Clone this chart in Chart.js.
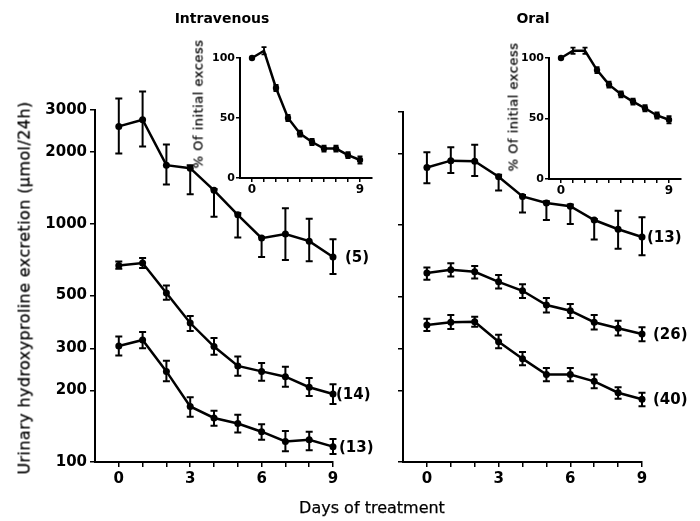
<!DOCTYPE html>
<html>
<head>
<meta charset="utf-8">
<script src="https://cdn.jsdelivr.net/npm/chart.js@4.4.0/dist/chart.umd.min.js"></script>
<style>
  body { margin: 0; background: #fff; }
  #wrap { position: relative; width: 700px; height: 521px; overflow: hidden; font-family: "DejaVu Sans", sans-serif; color: #000; }
  canvas { position: absolute; }
  .txt { position: absolute; white-space: nowrap; transform: translate(-50%, -50%); -webkit-text-stroke: 0.25px #000; }
  .rot { transform: translate(-50%, -50%) rotate(-90deg); }
  .bold { font-weight: bold; -webkit-text-stroke: 0; }
</style>
</head>
<body>
<div id="wrap">
  <canvas id="ivMain" width="380" height="521" style="left:0;top:0"></canvas>
  <canvas id="oralMain" width="320" height="521" style="left:380px;top:0"></canvas>
  <canvas id="ivInset" width="190" height="180" style="left:190px;top:20px"></canvas>
  <canvas id="oralInset" width="200" height="182" style="left:500px;top:20px"></canvas>

  <div class="txt bold" style="left:222px;top:18px;font-size:14px">Intravenous</div>
  <div class="txt bold" style="left:533px;top:18px;font-size:14px">Oral</div>
  <div class="txt rot" style="left:24px;top:288px;font-size:16px;letter-spacing:0.4px">Urinary hydroxyproline excretion (μmol/24h)</div>
  <div class="txt" style="left:372px;top:507px;font-size:16px">Days of treatment</div>
  <div class="txt rot" style="left:198px;top:104px;font-size:13px;letter-spacing:0.5px">% Of initial excess</div>
  <div class="txt rot" style="left:513px;top:107px;font-size:13px;letter-spacing:0.5px">% Of initial excess</div>
</div>

<script>
const days = [0, 1, 2, 3, 4, 5, 6, 7, 8, 9];
const mainTicks = [100, 200, 300, 500, 1000, 2000, 3000];
const insetTicks = [0, 50, 100];

// intravenous, µmol/24h (mean, upper and lower end of the error bar)
const ivHigh   = [2560, 2730, 1760, 1710, 1380, 1090, 870, 905, 845, 725];
const ivHighUp = [3350, 3590, 2150, 1760, 1400, 1110, 880, 1160, 1050, 860];
const ivHighLo = [1970, 2110, 1460, 1330, 1070, 875, 725, 705, 695, 615];

const ivMid   = [668, 684, 512, 383, 305, 253, 240, 228, 206, 193];
const ivMidUp = [694, 718, 551, 410, 331, 277, 260, 251, 225, 212];
const ivMidLo = [647, 651, 480, 355, 282, 230, 219, 207, 189, 175];

const ivLow   = [307, 325, 240, 171, 153, 145, 134, 122, 124, 116];
const ivLowUp = [336, 351, 266, 187, 164, 158, 144, 135, 134, 125];
const ivLowLo = [280, 300, 218, 155, 142, 133, 124, 111, 112, 108];

// oral
const oralHigh   = [1750, 1870, 1860, 1600, 1320, 1240, 1200, 1050, 960, 890];
const oralHighUp = [2030, 2130, 2180, 1630, 1340, 1260, 1220, 1060, 1150, 1080];
const oralHighLo = [1500, 1660, 1610, 1400, 1130, 1050, 1010, 870, 795, 745];

const oralMid   = [627, 647, 635, 576, 528, 460, 435, 389, 367, 347];
const oralMidUp = [662, 690, 672, 615, 563, 492, 464, 417, 395, 370];
const oralMidLo = [587, 606, 595, 540, 492, 428, 405, 362, 342, 323];

const oralLow   = [379, 389, 391, 322, 273, 234, 234, 219, 196, 184];
const oralLowUp = [402, 417, 410, 344, 291, 249, 249, 234, 207, 196];
const oralLowLo = [357, 364, 372, 302, 256, 219, 219, 205, 185, 172];

// insets, % of initial excess
const ivPct      = [100, 106, 75, 50, 37, 30, 24.5, 24.5, 19, 15];
const ivPctErr   = [0, 3, 2.5, 2.5, 2.5, 2.5, 2.5, 2.5, 2.5, 3];
const oralPct    = [100, 106, 106, 90, 78, 70, 64, 58.5, 52.5, 49];
const oralPctErr = [0, 2.5, 2.5, 2.5, 2.5, 2.5, 2.5, 2.5, 2.5, 3];

const FONT = "'DejaVu Sans', sans-serif";

const errorBars = {
  id: 'errorBars',
  afterDatasetsDraw(chart) {
    const ctx = chart.ctx, xs = chart.scales.x, ys = chart.scales.y;
    ctx.save();
    ctx.strokeStyle = '#000';
    ctx.fillStyle = '#000';
    chart.data.datasets.forEach(ds => {
      ctx.lineWidth = ds.errWidth || 2;
      ds.data.forEach((p, i) => {
        if (!ds.errUp) return;
        const x = xs.getPixelForValue(p.x);
        const yT = ys.getPixelForValue(ds.errUp[i]);
        const yB = ys.getPixelForValue(ds.errLo[i]);
        if (Math.abs(yB - yT) < 1) return;
        const c = ds.cap;
        ctx.beginPath();
        ctx.moveTo(x, yT); ctx.lineTo(x, yB);
        ctx.moveTo(x - c, yT); ctx.lineTo(x + c, yT);
        ctx.moveTo(x - c, yB); ctx.lineTo(x + c, yB);
        ctx.stroke();
      });
      if (ds.tag) {
        const last = ds.data[ds.data.length - 1];
        ctx.font = 'bold 15px ' + FONT;
        ctx.textAlign = 'left';
        ctx.textBaseline = 'middle';
        ctx.fillText(ds.tag, xs.getPixelForValue(last.x) + ds.tagDx, ys.getPixelForValue(last.y) + 1);
      }
    });
    ctx.restore();
  }
};

function series(vals, up, lo, tag, tagDx) {
  return {
    data: days.map((d, i) => ({ x: d, y: vals[i] })),
    errUp: up, errLo: lo, cap: 3.5, errWidth: 2,
    tag: tag, tagDx: tagDx,
    borderColor: '#000', borderWidth: 2.5,
    pointRadius: 3.5, pointBackgroundColor: '#000', pointBorderWidth: 0,
    clip: false
  };
}

function pctSeries(vals, err) {
  return {
    data: days.map((d, i) => ({ x: d, y: vals[i] })),
    errUp: vals.map((v, i) => v + err[i]),
    errLo: vals.map((v, i) => v - err[i]),
    cap: 2.5, errWidth: 1.8,
    borderColor: '#000', borderWidth: 2.5,
    pointRadius: 3.2, pointBackgroundColor: '#000', pointBorderWidth: 0,
    clip: false
  };
}

function axisCommon(fontSize, tickLen, pad) {
  return {
    grid: { drawOnChartArea: false, color: '#000', lineWidth: 1.5, tickLength: tickLen },
    border: { color: '#000', width: 2 },
    ticks: { color: '#000', font: { family: FONT, size: fontSize, weight: 'bold' }, padding: pad, autoSkip: false, maxRotation: 0 }
  };
}

function mainChart(id, datasets, yWidth, padTop, padRight, showY) {
  const xAx = axisCommon(15, 5, 3);
  const yAx = axisCommon(15, 5, 3);
  return new Chart(document.getElementById(id), {
    type: 'line',
    data: { datasets },
    options: {
      responsive: false, animation: false,
      layout: { padding: { top: padTop, right: padRight, left: 0, bottom: 0 } },
      plugins: { legend: { display: false }, tooltip: { enabled: false } },
      scales: {
        x: {
          ...xAx, type: 'linear', min: -1, max: 9,
          afterBuildTicks: s => { s.ticks = days.map(v => ({ value: v })); },
          afterFit: s => { s.height = 59; },
          ticks: { ...xAx.ticks, callback: v => (v % 3 === 0 ? String(v) : '') }
        },
        y: {
          ...yAx, type: 'logarithmic', min: 100, max: 3000,
          afterBuildTicks: s => { s.ticks = mainTicks.map(v => ({ value: v })); },
          afterFit: s => { s.width = yWidth; },
          ticks: { ...yAx.ticks, callback: v => (showY ? String(v) : '') }
        }
      }
    },
    plugins: [errorBars]
  });
}

function insetChart(id, datasets, yWidth, padRight, xHeight) {
  const xAx = axisCommon(12, 4, 1);
  const yAx = axisCommon(11, 4, 1);
  return new Chart(document.getElementById(id), {
    type: 'line',
    data: { datasets },
    options: {
      responsive: false, animation: false,
      layout: { padding: { top: 38, right: padRight, left: 0, bottom: 0 } },
      plugins: { legend: { display: false }, tooltip: { enabled: false } },
      scales: {
        x: {
          ...xAx, type: 'linear', min: -1, max: 10,
          afterBuildTicks: s => { s.ticks = days.map(v => ({ value: v })); },
          afterFit: s => { s.height = xHeight; },
          ticks: { ...xAx.ticks, callback: v => (v === 0 || v === 9 ? String(v) : '') }
        },
        y: {
          ...yAx, type: 'linear', min: 0, max: 100,
          afterBuildTicks: s => { s.ticks = insetTicks.map(v => ({ value: v })); },
          afterFit: s => { s.width = yWidth; },
          ticks: { ...yAx.ticks, callback: v => String(v) }
        }
      }
    },
    plugins: [errorBars]
  });
}

mainChart('ivMain', [
  series(ivHigh, ivHighUp, ivHighLo, '(5)', 12),
  series(ivMid, ivMidUp, ivMidLo, '(14)', 3),
  series(ivLow, ivLowUp, ivLowLo, '(13)', 6)
], 95, 110, 47, true);

mainChart('oralMain', [
  series(oralHigh, oralHighUp, oralHighLo, '(13)', 5),
  series(oralMid, oralMidUp, oralMidLo, '(26)', 11),
  series(oralLow, oralLowUp, oralLowLo, '(40)', 11)
], 23, 112, 58, false);

insetChart('ivInset', [pctSeries(ivPct, ivPctErr)], 50, 8, 22);
insetChart('oralInset', [pctSeries(oralPct, oralPctErr)], 49, 19, 23);
</script>
</body>
</html>
